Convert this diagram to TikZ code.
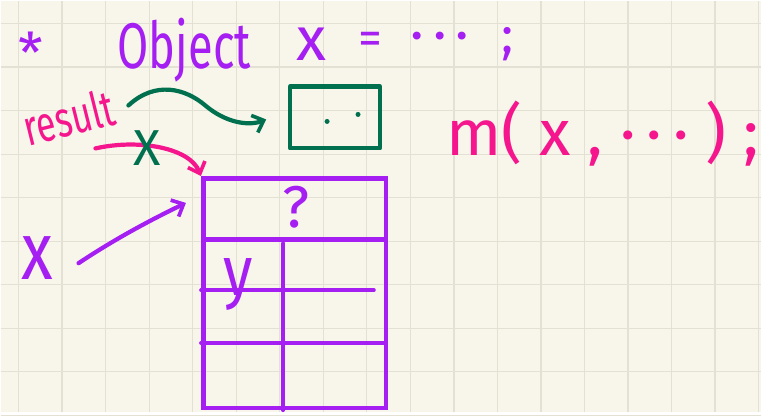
\documentclass[tikz,border=0pt]{standalone}
\usepackage{fontspec}
\setmainfont{Fira Sans}
\usetikzlibrary{arrows.meta,calc,positioning}
\definecolor{paper}{HTML}{F8F6EA}
\definecolor{gridline}{HTML}{E3E1D3}
\definecolor{inkpurple}{HTML}{A51EF2}
\definecolor{inkpink}{HTML}{F5168E}
\definecolor{inkgreen}{HTML}{00704F}
\newcommand{\pxu}{0.025cm}

\begin{document}
\begin{tikzpicture}[x=\pxu, y=-\pxu,
    pen/.style={line width=3pt, line cap=round, line join=round},
    finepen/.style={line width=2.5pt, line cap=round, line join=round},
    barb/.style={-{Straight Barb[length=7pt, width=13pt, line width=2.6pt]}},
    scrawl/.style={inner sep=0pt, font=\fontsize{#1}{#1}\selectfont},
    scrawl/.default=30]

% Paper and grid
\fill[paper] (0,0) rectangle (762,412);
\foreach \k in {0,...,17}{
  \draw[gridline, line width=0.9pt] ({18+43.6*\k},0) -- ({18+43.6*\k},412);
}
\foreach \k in {0,...,9}{
  \draw[gridline, line width=0.9pt] (0,{23+43.6*\k}) -- (762,{23+43.6*\k});
}
\useasboundingbox (0,0) rectangle (762,412);

% Heading
\node[scrawl=40, inkpurple] (star) at (30,52) {*};
\node[scrawl=46, inkpurple, xscale=0.7] (object) at (184,50) {Object};
\node[scrawl=44, inkpurple] (xvar) at (311,44) {x};
\node[scrawl=34, inkpurple] (eqsign) at (370,43) {=};
\node[scrawl=40, inkpurple] (dots) at (440,42) {·\,·\,·};
\node[scrawl=36, inkpurple] (semi) at (508,44) {;};

% Reference box
\node[draw=inkgreen, pen, minimum width=90*\pxu, minimum height=62*\pxu] (refbox) at (335,117) {};
\fill[inkgreen] (327,121) circle (2.5);
\fill[inkgreen] (358,114) circle (2.5);

% result label and its arrows
\node[scrawl=36, inkpink, rotate=14, xscale=0.7] (result) at (68,117) {result};
\coordinate (gstart) at (128,105);
\coordinate (gend) at (266,119);
\draw[inkgreen, pen, barb] (gstart) .. controls (155,80) and (185,88) .. (205,105)
  .. controls (225,122) and (248,126) .. (gend);

% Purple table
\node[draw=inkpurple, line width=3.4pt, minimum width=183*\pxu, minimum height=230*\pxu] (tbl) at (294.5,293) {};
\draw[inkpurple, line width=3.4pt] (tbl.west |- 0,239) -- (tbl.east |- 0,239);
\draw[inkpurple, finepen] (tbl.west |- 0,290) -- (374,290);
\draw[inkpurple, finepen] (tbl.west |- 0,343) -- (384,343);
\draw[inkpurple, finepen] (283,243) -- (283,0 |- tbl.south);
\node[scrawl=42, inkpurple] (qmark) at (296,207) {?};
\node[scrawl=50, inkpurple, xscale=0.85] (yvar) at (238,284) {y};

\coordinate (pstart) at (95,148);
\draw[inkpink, pen, barb] (pstart) .. controls (140,138) and (190,148) .. (tbl.north west);
\node[scrawl=36, inkgreen] (cross) at (147,148) {X};

% x points into the table
\node[scrawl=58, inkpurple, xscale=0.8] (xleft) at (37,258) {x};
\coordinate (xtip) at ($(tbl.north west)+(-15,27)$);
\draw[inkpurple, pen, barb] ($(xleft.east)+(25,5)$) .. controls (120,235) and (160,215) .. (xtip);

% method call
\node[scrawl=46, inkpink] (call) at (603,133) {m( x , ·\,·\,· ) ;};

\end{tikzpicture}
\end{document}
